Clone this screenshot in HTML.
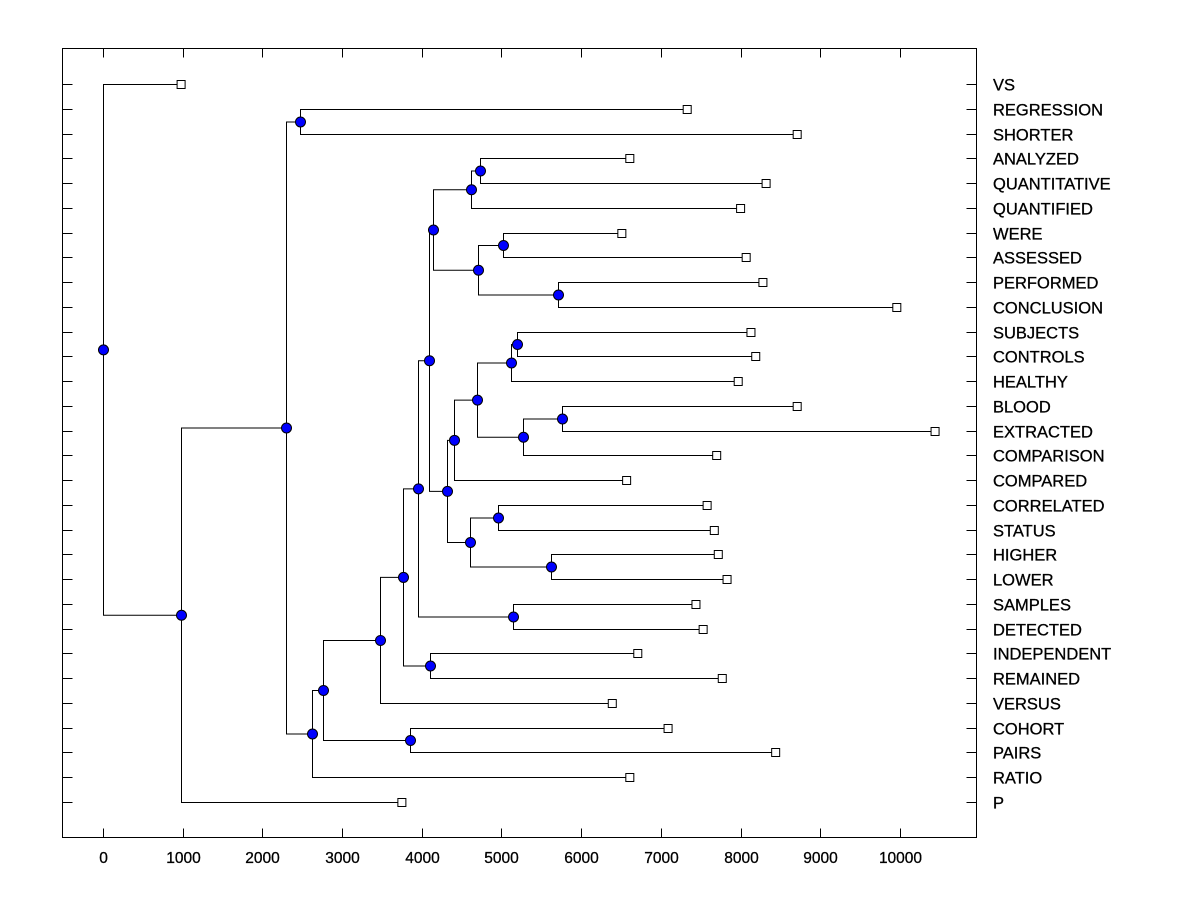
<!DOCTYPE html>
<html><head><meta charset="utf-8"><style>
html,body{margin:0;padding:0;background:#fff;}
svg text{font-family:"Liberation Sans",Arial,sans-serif;fill:#000;}
</style></head><body>
<svg id="chart" width="1200" height="900" xmlns="http://www.w3.org/2000/svg">
<rect x="0" y="0" width="1200" height="900" fill="#fff"/>
<rect x="62.5" y="48.5" width="914" height="789" fill="none" stroke="#000" stroke-width="1"/>
<g id="axes"></g><g id="links"></g><g id="nodes"></g>
</svg>
<script>
const leaves = ["VS","REGRESSION","SHORTER","ANALYZED","QUANTITATIVE","QUANTIFIED","WERE","ASSESSED","PERFORMED","CONCLUSION","SUBJECTS","CONTROLS","HEALTHY","BLOOD","EXTRACTED","COMPARISON","COMPARED","CORRELATED","STATUS","HIGHER","LOWER","SAMPLES","DETECTED","INDEPENDENT","REMAINED","VERSUS","COHORT","PAIRS","RATIO","P"];
const leafHeights = [980,7330,8710,6610,8320,8000,6510,8070,8280,9960,8130,8190,7970,8710,10440,7700,6570,7580,7670,7720,7830,7440,7530,6710,7770,6390,7090,8440,6610,3750];
const mergeNames = ["Na","Nq","Nwe","Npc","Nw","Ntop","Nsc","Nsub","Nblood","Nbe","Nbl","Ncomp","Ncor","Nhl","Ncs","Nmid","N6","Nsam","N5","Nind","N4","N3","Ncoh","N2","Nc","Nreg","Nbig","N1","root"];
const mergeLeft = ["ANALYZED","Na","WERE","PERFORMED","Nwe","Nq","SUBJECTS","Nsc","BLOOD","Nblood","Nsub","Nbl","CORRELATED","HIGHER","Ncor","Ncomp","Ntop","SAMPLES","N6","INDEPENDENT","N5","N4","COHORT","N3","N2","REGRESSION","Nreg","Nbig","VS"];
const mergeRight = ["QUANTITATIVE","QUANTIFIED","ASSESSED","CONCLUSION","Npc","Nw","CONTROLS","HEALTHY","EXTRACTED","COMPARISON","Nbe","COMPARED","STATUS","LOWER","Nhl","Ncs","Nmid","DETECTED","Nsam","REMAINED","Nind","VERSUS","PAIRS","Ncoh","RATIO","SHORTER","Nc","P","N1"];
const mergeHeights = [4730,4620,5020,5710,4700,4140,5200,5120,5760,5270,4690,4410,4960,5620,4600,4320,4090,5140,3950,4100,3760,3470,3850,2760,2620,2470,2300,980,0];
const xTicks = [0,1000,2000,3000,4000,5000,6000,7000,8000,9000,10000];

const NS="http://www.w3.org/2000/svg";
const xs = v => 103 + v*0.0797;
const rowY = i => 84 + i*(802-84)/(leaves.length-1);
const L=62.5,R=976.5,T=48.5,B=837.5;
function mk(tag,attrs,parent){const e=document.createElementNS(NS,tag);for(const k in attrs)e.setAttribute(k,attrs[k]);parent.appendChild(e);return e;}
const axes=document.getElementById('axes'),links=document.getElementById('links'),nodes=document.getElementById('nodes');

xTicks.forEach(t=>{
  const x=Math.round(xs(t))+0.5;
  const a=mk('line',{x1:x,y1:B,x2:x,y2:B-9,stroke:'#000'},axes);
  
  
  const b=mk('line',{x1:x,y1:T,x2:x,y2:T+9,stroke:'#000'},axes);
  
  
  const tx=mk('text',{x:x,y:863,'text-anchor':'middle','font-size':'15.5','stroke':'#000','stroke-width':'0.3'},axes);
  tx.textContent=t;
  
  
});

const pos={};
leaves.forEach((n,i)=>{
  const y=Math.round(rowY(i))+0.5;
  pos[n]={x:xs(leafHeights[i]),y:y,leaf:true};
  const a=mk('line',{x1:L,y1:y,x2:L+10,y2:y,stroke:'#000'},axes);
  
  
  const b=mk('line',{x1:R,y1:y,x2:R-10,y2:y,stroke:'#000'},axes);
  
  
  const t=mk('text',{x:993,y:y+6,'font-size':'16.5','stroke':'#000','stroke-width':'0.3'},axes);
  t.textContent=n;
  
  
});

mergeNames.forEach((n,i)=>{
  const a=pos[mergeLeft[i]],b=pos[mergeRight[i]];
  const x=Math.round(xs(mergeHeights[i]))+0.5;
  pos[n]={x:x,y:(a.y+b.y)/2,leaf:false};
  const p=mk('path',{d:`M${a.x},${a.y}H${x}V${b.y}H${b.x}`,fill:'none',stroke:'#000','stroke-width':1},links);
  
  
});

leaves.forEach(n=>{
  const p=pos[n];
  const r=mk('rect',{x:p.x-4,y:p.y-4,width:8,height:8,fill:'#fff',stroke:'#000'},nodes);
  
  
});
mergeNames.forEach(n=>{
  const p=pos[n];
  const c=mk('circle',{cx:p.x,cy:p.y,r:5,fill:'#0000ff',stroke:'#000','stroke-width':1},nodes);
  
  
});
</script>
</body></html>
